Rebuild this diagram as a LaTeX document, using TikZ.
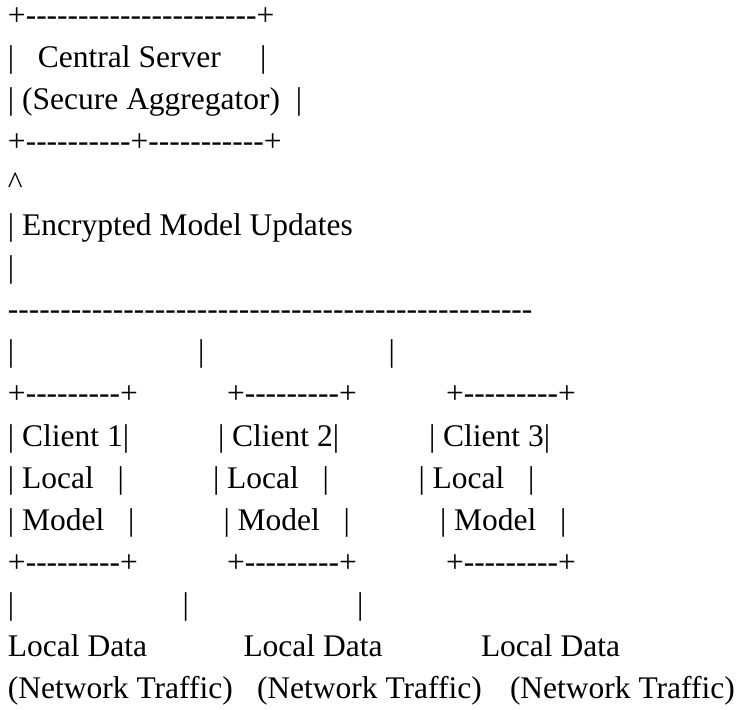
\documentclass[tikz,border=0pt]{standalone}
\usepackage{fontspec}
\setmainfont{Liberation Serif}
\usepackage{tikz}

% a run of hyphens, kept apart so they do not turn into dashes
\newcommand{\hyph}[1]{\foreach \k in {1,...,#1}{-\kern0pt}}

\begin{document}
\begin{tikzpicture}[x=1pt,y=-1pt,
    txt/.style={anchor=base west,inner sep=0pt,outer sep=0pt,
                font=\fontsize{31.5}{38}\selectfont}]
    \fill[white] (0,0) rectangle (740,710);
    \useasboundingbox (0,0) rectangle (740,710);

    % server box
    \node[txt] (srvtop) at (8,25) {+\hyph{22}+};
    \node[txt] (srvname) at (8,67.1) {|~~~Central Server~~~~~|};
    \node[txt] (srvrole) at (8,109.2) {| (Secure Aggregator)~~|};
    \node[txt] (srvbot) at (8,151.3) {+\hyph{10}+\hyph{11}+};

    % updates going up
    \node[txt] (uphead) at (8,193.4) {\textasciicircum};
    \node[txt] (uplabel) at (8,235.5) {| Encrypted Model Updates};
    \node[txt] (upstem) at (8,277.6) {|};
    \node[txt] (bus) at (8,319.7) {\hyph{50}};

    \foreach \i/\x in {1/8,2/198,3/388.5}{
        \node[txt] (drop\i) at (\x,361.8) {|};
    }

    % client boxes
    \foreach \i/\x in {1/8,2/227,3/446}{
        \node[txt] (boxtop\i) at (\x,403.9) {+\hyph{9}+};
        \node[txt] (boxbot\i) at (\x,572.3) {+\hyph{9}+};
    }
    \foreach \i/\x in {1/8,2/218,3/429}{
        \node[txt] (client\i) at (\x,446) {| Client \i|};
    }
    \foreach \i/\x in {1/8,2/213,3/418.5}{
        \node[txt] (local\i) at (\x,488.1) {| Local~~~|};
    }
    \foreach \i/\x in {1/8,2/223.5,3/440}{
        \node[txt] (model\i) at (\x,530.2) {| Model~~~|};
    }

    % local data under each client
    \foreach \i/\x in {1/8,2/182.5,3/357}{
        \node[txt] (feed\i) at (\x,614.4) {|};
    }
    \foreach \i/\x in {1/8,2/243.5,3/481}{
        \node[txt] (data\i) at (\x,656.5) {Local Data};
    }
    \foreach \i/\x in {1/8,2/257,3/510}{
        \node[txt] (traffic\i) at (\x,698.6) {(Network Traffic)};
    }
\end{tikzpicture}
\end{document}
